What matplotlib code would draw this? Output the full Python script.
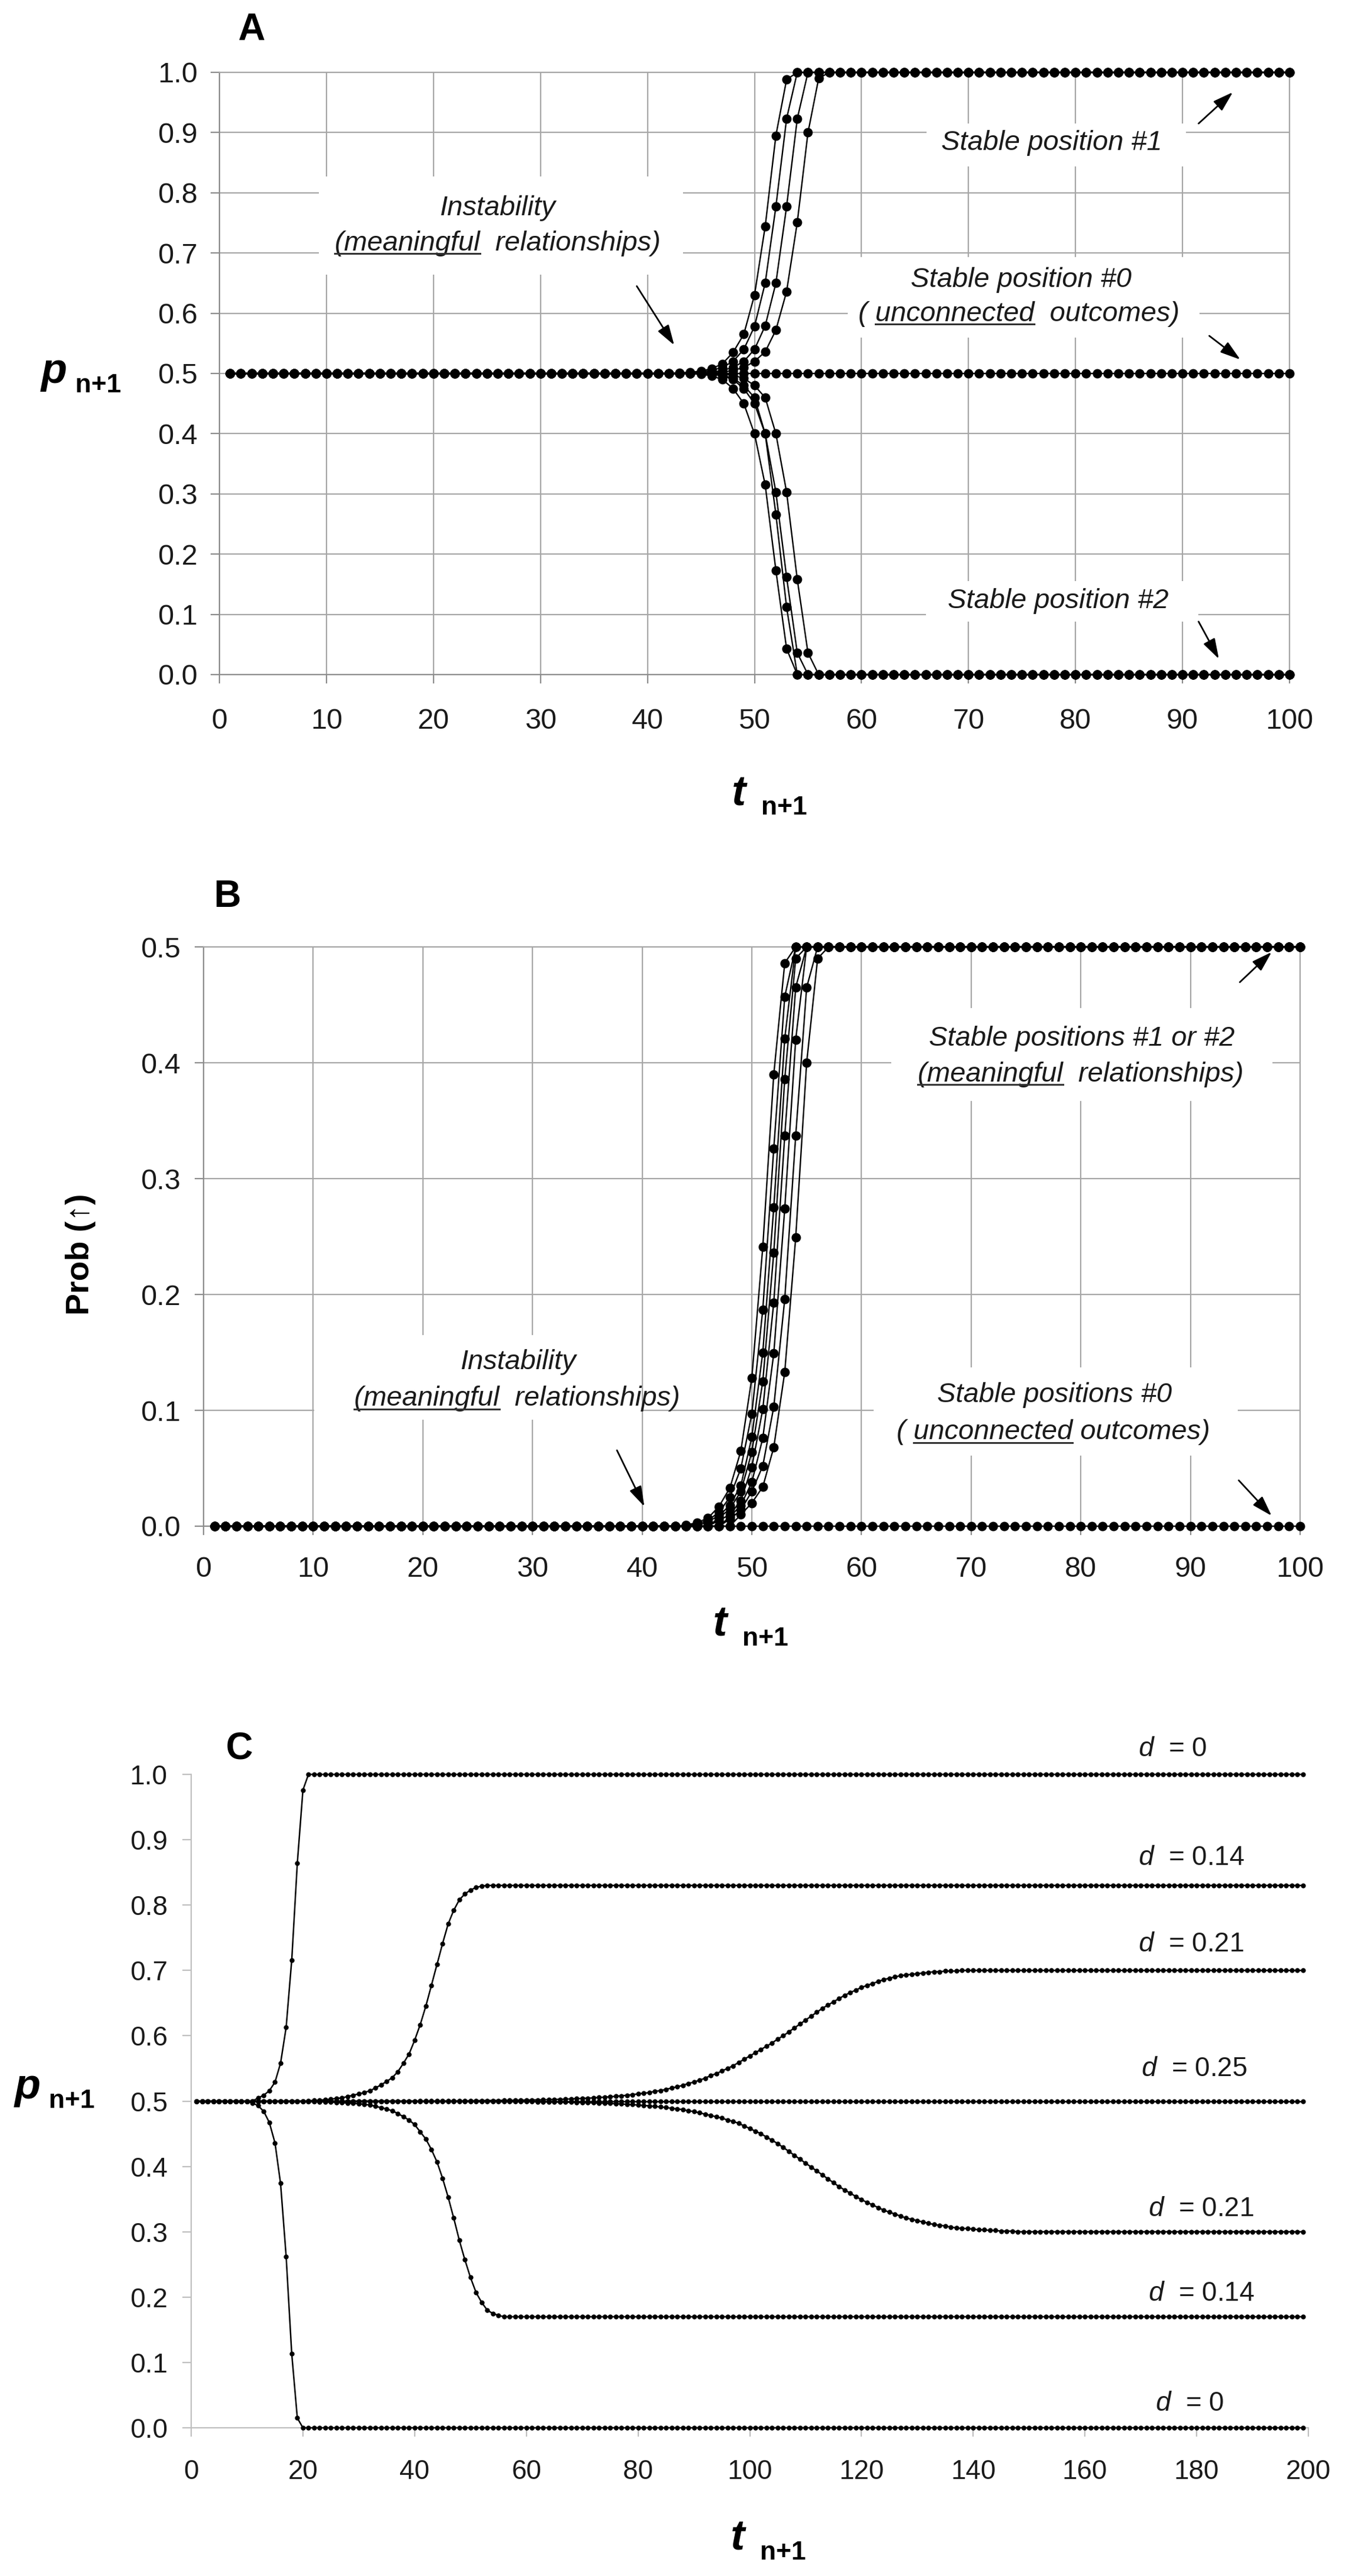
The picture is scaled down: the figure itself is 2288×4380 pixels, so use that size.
import matplotlib
matplotlib.use('Agg')
import matplotlib.pyplot as plt
from matplotlib.patches import Rectangle
from matplotlib.lines import Line2D

plt.rcParams['font.family'] = ['Liberation Sans', 'DejaVu Sans']
plt.rcParams['mathtext.fontset'] = 'custom'
plt.rcParams['mathtext.it'] = 'Liberation Sans:italic'
plt.rcParams['mathtext.rm'] = 'Liberation Sans'

# ---------------- data ----------------
t_ab = list(range(1, 101))
t_c = list(range(1, 200))

# panel A: p_{n+1}
a_flat = [0.5] * 100
a_up1 = [0.5] * 42 + [0.501, 0.502, 0.504, 0.508, 0.516, 0.535, 0.565, 0.63, 0.744, 0.895, 0.988] + [1.0] * 47
a_up2 = [0.5] * 43 + [0.501, 0.502, 0.505, 0.51, 0.52, 0.54, 0.578, 0.65, 0.777, 0.923] + [1.0] * 47
a_up3 = [0.5] * 44 + [0.501, 0.502, 0.505, 0.51, 0.52, 0.54, 0.579, 0.65, 0.777, 0.923] + [1.0] * 46
a_up4 = [0.5] * 45 + [0.501, 0.502, 0.505, 0.51, 0.52, 0.536, 0.572, 0.636, 0.751, 0.90, 0.99] + [1.0] * 44
a_dn1 = [0.5] * 44 + [0.499, 0.496, 0.49, 0.475, 0.45, 0.40, 0.315, 0.173, 0.043] + [0.0] * 47
a_dn2 = [0.5] * 45 + [0.499, 0.496, 0.49, 0.475, 0.45, 0.40, 0.266, 0.112] + [0.0] * 47
a_dn3 = [0.5] * 45 + [0.499, 0.497, 0.492, 0.48, 0.46, 0.40, 0.303, 0.162, 0.036] + [0.0] * 46
a_dn4 = [0.5] * 46 + [0.499, 0.497, 0.492, 0.48, 0.46, 0.40, 0.303, 0.158, 0.036] + [0.0] * 45

# panel B: Prob(up)
b_flat = [0.0] * 100
b1 = [0.0] * 43 + [0.001, 0.003, 0.007, 0.017, 0.033, 0.065, 0.128, 0.241, 0.39, 0.486] + [0.5] * 47
b2 = [0.0] * 44 + [0.002, 0.005, 0.012, 0.025, 0.05, 0.097, 0.187, 0.326, 0.457] + [0.5] * 47
b3 = [0.0] * 45 + [0.004, 0.009, 0.018, 0.035, 0.077, 0.15, 0.275, 0.421] + [0.5] * 47
b4 = [0.0] * 46 + [0.007, 0.015, 0.03, 0.064, 0.125, 0.236, 0.386, 0.49] + [0.5] * 46
b5 = [0.0] * 46 + [0.005, 0.01, 0.022, 0.051, 0.101, 0.193, 0.337, 0.465] + [0.5] * 46
b6 = [0.0] * 47 + [0.008, 0.018, 0.038, 0.076, 0.149, 0.274, 0.42] + [0.5] * 46
b7 = [0.0] * 47 + [0.006, 0.014, 0.03, 0.052, 0.103, 0.196, 0.337, 0.465] + [0.5] * 45
b8 = [0.0] * 48 + [0.01, 0.02, 0.034, 0.068, 0.133, 0.249, 0.40, 0.49] + [0.5] * 44

# panel C: p_{n+1} for several d
c25 = [0.5] * 199
c0_up = [0.5] * 11 + [0.505, 0.509, 0.516, 0.529, 0.558, 0.613, 0.716, 0.864, 0.976] + [1.0] * 179
c0_dn = [0.5] * 10 + [0.497, 0.493, 0.484, 0.467, 0.436, 0.374, 0.262, 0.113, 0.015] + [0.0] * 180
c14_up = [0.5] * 20 + [
    0.5005, 0.501, 0.5015, 0.502, 0.503, 0.504, 0.505, 0.507, 0.509, 0.511,
    0.513, 0.516, 0.52, 0.525, 0.53, 0.536, 0.545, 0.558, 0.572, 0.593,
    0.617, 0.645, 0.677, 0.709, 0.741, 0.771, 0.792, 0.808, 0.817, 0.823,
    0.827, 0.829, 0.83] + [0.83] * 146
c14_dn = [0.5] * 20 + [
    0.4995, 0.4995, 0.499, 0.499, 0.4985, 0.498, 0.4975, 0.497, 0.4965, 0.496,
    0.495, 0.494, 0.492, 0.49, 0.488, 0.485, 0.481, 0.476, 0.471, 0.464,
    0.453, 0.442, 0.426, 0.407, 0.382, 0.353, 0.321, 0.287, 0.257, 0.23,
    0.207, 0.192, 0.18, 0.175, 0.172] + [0.17] * 144
c21_up = [0.5] * 40 + [
    0.5002, 0.5002, 0.5003, 0.5003, 0.5003, 0.5004, 0.5004, 0.5004, 0.5005, 0.5005,
    0.5006, 0.5007, 0.5007, 0.5008, 0.5009, 0.5010, 0.5011, 0.5012, 0.5013, 0.5015,
    0.5016, 0.5018, 0.5020, 0.5022, 0.5024, 0.5027, 0.5030, 0.5033, 0.5037, 0.5041,
    0.5045, 0.5050, 0.5055, 0.5060, 0.5066, 0.5073, 0.5081, 0.5089, 0.5099, 0.511,
    0.512, 0.513, 0.515, 0.516, 0.518, 0.520, 0.522, 0.524, 0.527, 0.529,
    0.532, 0.535, 0.539, 0.542, 0.546, 0.550, 0.554, 0.559, 0.564, 0.569,
    0.574, 0.579, 0.584, 0.589, 0.595, 0.600, 0.606, 0.612, 0.618, 0.624,
    0.630, 0.636, 0.642, 0.647, 0.652, 0.657, 0.662, 0.666, 0.670, 0.674,
    0.677, 0.680, 0.683, 0.686, 0.688, 0.690, 0.692, 0.693, 0.694, 0.695,
    0.696, 0.697, 0.698, 0.698, 0.699, 0.699, 0.699, 0.700, 0.700, 0.700] + [0.7] * 59
c21_dn = [0.5] * 40 + [
    0.4999, 0.4999, 0.4998, 0.4998, 0.4998, 0.4998, 0.4998, 0.4997, 0.4997, 0.4997,
    0.4997, 0.4996, 0.4996, 0.4996, 0.4995, 0.4995, 0.4994, 0.4993, 0.4993, 0.4992,
    0.4991, 0.4990, 0.4989, 0.4988, 0.4987, 0.4985, 0.4984, 0.4982, 0.4980, 0.4978,
    0.4976, 0.4973, 0.4970, 0.4967, 0.4964, 0.4960, 0.4956, 0.4951, 0.4946, 0.4940,
    0.4934, 0.4927, 0.4919, 0.4911, 0.4902, 0.489, 0.488, 0.487, 0.485, 0.484,
    0.482, 0.480, 0.478, 0.476, 0.474, 0.471, 0.469, 0.466, 0.462, 0.458,
    0.454, 0.450, 0.445, 0.440, 0.435, 0.429, 0.423, 0.417, 0.411, 0.405,
    0.399, 0.393, 0.387, 0.381, 0.375, 0.369, 0.364, 0.359, 0.354, 0.349,
    0.345, 0.341, 0.337, 0.333, 0.330, 0.327, 0.324, 0.321, 0.319, 0.317,
    0.315, 0.313, 0.311, 0.310, 0.309, 0.307, 0.306, 0.305, 0.305, 0.304,
    0.303, 0.303, 0.302, 0.302, 0.301, 0.301, 0.301, 0.300, 0.300, 0.300] + [0.3] * 49

c_labels = ['$d$  = 0', '$d$  = 0.14', '$d$  = 0.21', '$d$  = 0.25',
            '$d$  = 0.21', '$d$  = 0.14', '$d$  = 0']

# ---------------- figure ----------------
W, H = 2288, 4380
fig = plt.figure(figsize=(W / 100, H / 100), dpi=100)


def rect(l, r, t, b):
    return [l / W, 1 - b / H, (r - l) / W, (b - t) / H]


axA = fig.add_axes(rect(373, 2192, 123, 1147))
axB = fig.add_axes(rect(346, 2210, 1610, 2595))
axC = fig.add_axes(rect(325, 2224, 3017, 4128))

GRID = '#a6a6a6'
SPINE = '#8c8c8c'


def grid_axes(ax, ymax, xpad, ypad):
    ax.set_xlim(0, 100)
    ax.set_ylim(0, ymax)
    ax.set_xticks(range(0, 101, 10))
    ax.set_yticks([i / 10 for i in range(int(round(ymax * 10)) + 1)])
    ax.set_yticklabels(['%.1f' % (i / 10) for i in range(int(round(ymax * 10)) + 1)])
    ax.grid(True, color=GRID, lw=1.6)
    ax.set_axisbelow(True)
    for s in ax.spines.values():
        s.set_color(GRID)
        s.set_linewidth(1.6)
    ax.spines['left'].set_color(SPINE)
    ax.spines['bottom'].set_color(SPINE)
    ax.tick_params(direction='out', length=11, width=1.6, color=SPINE, labelsize=35,
                   labelcolor='#1a1a1a')
    ax.tick_params(axis='x', pad=xpad)
    ax.tick_params(axis='y', pad=ypad)


grid_axes(axA, 1.0, 30, 16)
grid_axes(axB, 0.5, 26, 17)

for y in [a_flat, a_up1, a_up2, a_up3, a_up4, a_dn1, a_dn2, a_dn3, a_dn4]:
    axA.plot(t_ab, y, '-o', color='black', lw=1.7, ms=10.5, clip_on=False, zorder=3)
for y in [b_flat, b1, b2, b3, b4, b5, b6, b7, b8]:
    axB.plot(t_ab, y, '-o', color='black', lw=1.7, ms=10.5, clip_on=False, zorder=3)

# panel C
axC.set_xlim(0, 200)
axC.set_ylim(0, 1.0)
axC.set_xticks(range(0, 201, 20))
axC.set_yticks([i / 10 for i in range(11)])
axC.set_yticklabels(['%.1f' % (i / 10) for i in range(11)])
for s in ['top', 'right']:
    axC.spines[s].set_visible(False)
for s in ['left', 'bottom']:
    axC.spines[s].set_color('#bfbfbf')
    axC.spines[s].set_linewidth(1.6)
axC.tick_params(direction='out', length=11, width=1.6, color='#bfbfbf', labelsize=33,
                labelcolor='#1a1a1a')
axC.tick_params(axis='x', pad=27)
axC.tick_params(axis='y', pad=18)
for y in [c25, c0_up, c0_dn, c14_up, c14_dn, c21_up, c21_dn]:
    axC.plot(t_c, y, '-o', color='black', lw=1.8, ms=5, clip_on=False, zorder=3)

c_label_pos = [(169.6, 1.039), (169.6, 0.872), (169.6, 0.74), (170.1, 0.549),
               (171.4, 0.335), (171.4, 0.205), (172.6, 0.037)]
for (x, y), s in zip(c_label_pos, c_labels):
    axC.text(x, y, s, ha='left', va='center', fontsize=33, color='#1a1a1a')


# ---------------- annotations ----------------
def white_box(ax, x0, x1, y0, y1):
    ax.add_patch(Rectangle((x0, y0), x1 - x0, y1 - y0, facecolor='white',
                           edgecolor='none', zorder=1.5))


def note(ax, x, y, s, ul=None):
    t = ax.text(x, y, s, ha='center', va='center', fontsize=34, style='italic',
                color='#1a1a1a', zorder=5)
    if ul is None:
        return
    r = fig.canvas.get_renderer()
    bb = t.get_window_extent(renderer=r)
    prop = t.get_fontproperties()

    def wid(u):
        return r.get_text_width_height_descent(u, prop, ismath=False)[0]

    i = s.index(ul)
    x1 = bb.x0 + wid(s[:i + len(ul)])
    x0 = x1 - wid(ul)
    desc = r.get_text_width_height_descent(s, prop, ismath=False)[2]
    yl = bb.y0 + desc * 0.45
    fig.add_artist(Line2D([x0 / W, x1 / W], [yl / H, yl / H], transform=fig.transFigure,
                          color='#333333', lw=2.2))


def arrow(ax, start, end):
    ax.annotate('', xy=end, xytext=start, zorder=6,
                arrowprops=dict(arrowstyle='-|>,head_length=0.7,head_width=0.22',
                                color='black', lw=2, mutation_scale=30,
                                shrinkA=0, shrinkB=0))


# panel A
white_box(axA, 9.3, 43.3, 0.664, 0.827)
white_box(axA, 66.1, 90.3, 0.844, 0.915)
white_box(axA, 58.7, 91.6, 0.56, 0.693)
white_box(axA, 66.0, 91.5, 0.088, 0.155)
note(axA, 26.0, 0.774, 'Instability')
note(axA, 26.0, 0.716, '(meaningful  relationships)', '(meaningful')
note(axA, 77.8, 0.883, 'Stable position #1')
note(axA, 74.9, 0.655, 'Stable position #0')
note(axA, 74.7, 0.599, '( unconnected  outcomes)', 'unconnected')
note(axA, 78.4, 0.122, 'Stable position #2')
arrow(axA, (39.0, 0.645), (42.5, 0.547))
arrow(axA, (91.5, 0.915), (94.7, 0.967))
arrow(axA, (92.5, 0.5625), (95.4, 0.523))
arrow(axA, (91.5, 0.088), (93.4, 0.026))

# panel B
white_box(axB, 62.7, 97.5, 0.367, 0.447)
white_box(axB, 61.1, 94.3, 0.061, 0.137)
white_box(axB, 10.1, 39.9, 0.092, 0.165)
note(axB, 80.1, 0.421, 'Stable positions #1 or #2')
note(axB, 80.0, 0.390, '(meaningful  relationships)', '(meaningful')
note(axB, 77.6, 0.113, 'Stable positions #0')
note(axB, 77.5, 0.081, '( unconnected outcomes)', 'unconnected')
note(axB, 28.7, 0.1416, 'Instability')
note(axB, 28.6, 0.110, '(meaningful  relationships)', '(meaningful')
arrow(axB, (94.5, 0.4695), (97.4, 0.4955))
arrow(axB, (94.4, 0.0396), (97.4, 0.009))
arrow(axB, (37.7, 0.0655), (40.2, 0.017))


# ---------------- axis labels and panel letters ----------------
def ftext(x, y, s, **kw):
    fig.text(x / W, 1 - y / H, s, **kw)


for x, y, s in [(427, 51, 'A'), (387, 1525, 'B'), (406, 2975, 'C')]:
    ftext(x, y, s, fontsize=46, fontweight='bold', ha='center', va='center')


def sub_label(x, y, main, sub, gap=50):
    ftext(x, y, main, fontsize=52, fontweight='bold', style='italic',
          ha='left', va='baseline')
    ftext(x + gap, y + 16, sub, fontsize=32, fontweight='bold', ha='left', va='baseline')


sub_label(70, 651, 'p', 'n+1', 58)
sub_label(1244, 1369, 't', 'n+1')
sub_label(1212, 2782, 't', 'n+1')
sub_label(1242, 4336, 't', 'n+1')
sub_label(25, 3568, 'p', 'n+1', 58)
ftext(137, 2133, 'Prob (\u2191)', fontsize=40, fontweight='bold', rotation=90,
      ha='center', va='center')

fig.savefig('out.png', dpi=100)
